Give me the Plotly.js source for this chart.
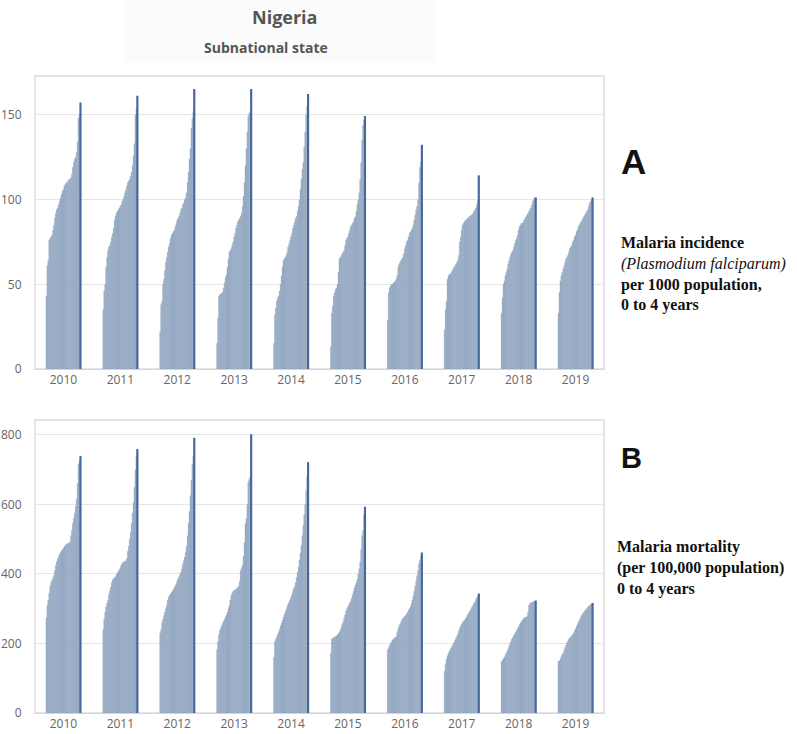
<!DOCTYPE html>
<html>
<head>
<meta charset="utf-8">
<script src="https://cdn.plot.ly/plotly-3.0.1.min.js"></script>
<style>
  html, body { margin: 0; padding: 0; background: #fff; }
  #chart { width: 797px; height: 734px; }
</style>
</head>
<body>
<div id="chart"></div>
<script>
// Years shown on the category axis
const years = ['2010', '2011', '2012', '2013', '2014', '2015', '2016', '2017', '2018', '2019'];

// Malaria incidence per 1000 (0-4 years), states sorted ascending within each year
const inc2010 = [43, 61, 64, 76, 77, 78, 79, 82, 85, 89, 92, 94, 95, 97, 99, 101, 103, 105, 106, 108, 109, 110, 110, 111, 112, 112, 113, 115, 119, 122, 124, 125, 128, 134, 148, 150, 157];
const inc2011 = [35, 46, 50, 60, 66, 70, 72, 73, 75, 78, 80, 83, 88, 90, 92, 93, 94, 95, 96, 97, 99, 100, 102, 104, 106, 108, 110, 111, 112, 114, 116, 120, 126, 133, 150, 154, 161];
const inc2012 = [22, 38, 40, 50, 53, 58, 63, 66, 69, 72, 74, 77, 79, 80, 81, 82, 84, 86, 88, 89, 90, 92, 94, 95, 97, 98, 100, 101, 104, 110, 116, 124, 130, 142, 148, 152, 165];
const inc2013 = [15, 30, 43, 44, 44, 45, 45, 48, 51, 54, 56, 60, 65, 69, 70, 71, 73, 75, 78, 80, 83, 85, 87, 88, 89, 90, 92, 96, 102, 110, 120, 130, 140, 149, 151, 152, 165];
const inc2014 = [15, 32, 36, 40, 42, 43, 46, 50, 55, 60, 64, 65, 66, 67, 69, 72, 74, 76, 78, 80, 83, 85, 87, 89, 90, 93, 96, 100, 106, 112, 118, 122, 131, 140, 150, 155, 162];
const inc2015 = [13, 33, 37, 43, 45, 47, 48, 50, 57, 65, 66, 67, 68, 69, 70, 73, 76, 77, 78, 80, 82, 84, 85, 86, 87, 89, 90, 93, 97, 100, 104, 112, 122, 135, 144, 147, 149];
const inc2016 = [29, 45, 48, 49, 50, 50, 51, 51, 52, 53, 55, 60, 62, 63, 64, 65, 66, 68, 71, 73, 75, 76, 78, 80, 81, 82, 83, 85, 88, 91, 94, 96, 100, 110, 119, 122, 132];
const inc2017 = [23, 35, 40, 53, 55, 56, 56, 57, 58, 59, 60, 61, 62, 63, 64, 67, 75, 78, 82, 85, 86, 87, 88, 88, 89, 89, 90, 90, 91, 91, 92, 93, 94, 95, 97, 99, 114];
const inc2018 = [33, 42, 50, 52, 55, 57, 59, 62, 64, 66, 68, 69, 70, 72, 74, 76, 77, 79, 82, 84, 85, 86, 86, 87, 88, 89, 90, 91, 92, 93, 94, 95, 97, 99, 100, 101, 101];
const inc2019 = [33, 45, 52, 55, 57, 59, 61, 63, 65, 66, 67, 69, 71, 72, 73, 75, 76, 78, 79, 81, 82, 84, 85, 86, 87, 88, 89, 90, 91, 92, 93, 94, 96, 98, 99, 100, 101];

// Malaria mortality per 100,000 (0-4 years), states sorted ascending within each year
const mort2010 = [273, 310, 325, 345, 365, 375, 382, 388, 395, 410, 425, 435, 443, 450, 456, 462, 466, 470, 474, 478, 482, 485, 487, 488, 489, 492, 510, 525, 545, 560, 575, 595, 615, 660, 715, 725, 738];
const mort2011 = [240, 270, 290, 305, 316, 325, 340, 352, 362, 375, 383, 386, 390, 393, 398, 403, 408, 412, 418, 425, 430, 433, 435, 436, 438, 445, 465, 480, 500, 520, 545, 575, 605, 650, 700, 740, 758];
const mort2012 = [230, 240, 260, 270, 280, 290, 300, 310, 325, 333, 338, 342, 346, 350, 355, 360, 366, 372, 380, 386, 392, 398, 405, 415, 428, 438, 448, 462, 480, 510, 545, 580, 625, 670, 715, 740, 790];
const mort2013 = [182, 205, 225, 238, 245, 252, 258, 264, 270, 276, 282, 290, 300, 310, 325, 338, 345, 350, 352, 354, 356, 358, 362, 365, 380, 410, 418, 425, 450, 490, 545, 560, 600, 665, 672, 678, 800];
const mort2014 = [160, 205, 212, 218, 226, 232, 240, 250, 258, 266, 275, 283, 290, 298, 306, 314, 320, 326, 332, 340, 350, 358, 365, 375, 390, 405, 420, 440, 460, 482, 510, 540, 570, 600, 640, 680, 720];
const mort2015 = [172, 213, 215, 217, 218, 220, 222, 225, 228, 232, 238, 246, 255, 262, 272, 282, 292, 300, 305, 310, 316, 322, 330, 340, 350, 360, 368, 375, 385, 400, 415, 435, 470, 510, 525, 570, 592];
const mort2016 = [182, 188, 195, 200, 205, 210, 213, 215, 217, 220, 232, 242, 250, 256, 262, 268, 272, 275, 278, 281, 285, 290, 296, 300, 306, 315, 325, 336, 350, 365, 380, 395, 410, 430, 440, 450, 460];
const mort2017 = [120, 140, 155, 165, 172, 178, 183, 188, 193, 198, 203, 209, 215, 221, 228, 236, 243, 250, 256, 260, 264, 267, 271, 276, 281, 286, 290, 295, 300, 305, 310, 315, 320, 326, 331, 336, 342];
const mort2018 = [148, 152, 156, 160, 166, 172, 178, 185, 192, 200, 207, 213, 218, 222, 227, 233, 238, 243, 248, 254, 259, 263, 267, 271, 274, 275, 276, 278, 290, 310, 315, 317, 318, 319, 320, 321, 322];
const mort2019 = [148, 150, 155, 162, 168, 172, 180, 188, 195, 202, 207, 212, 216, 219, 222, 225, 230, 236, 242, 248, 254, 260, 266, 272, 278, 283, 287, 290, 294, 297, 300, 304, 307, 310, 312, 313, 315];

const incidence = [inc2010, inc2011, inc2012, inc2013, inc2014, inc2015, inc2016, inc2017, inc2018, inc2019];
const mortality = [mort2010, mort2011, mort2012, mort2013, mort2014, mort2015, mort2016, mort2017, mort2018, mort2019];

const barColor = '#94a9c3';
const topColor = '#46699a';
const nStates = inc2010.length;

// One trace per rank position so that each year shows its sorted states side by side
const traces = [];
function addPanel(series, xa, ya) {
  for (let k = 0; k < nStates; k++) {
    const isTop = k === nStates - 1;
    const c = isTop ? topColor : barColor;
    traces.push({
      type: 'bar',
      x: years,
      y: series.map(s => s[k]),
      xaxis: xa,
      yaxis: ya,
      marker: { color: c, line: { color: c, width: isTop ? 1.2 : 0.4 } },
      hoverinfo: 'skip',
      showlegend: false
    });
  }
}
addPanel(incidence, 'x', 'y');
addPanel(mortality, 'x2', 'y2');

const tickFont = { family: 'Open Sans, sans-serif', size: 12, color: '#666666' };
const xCommon = {
  type: 'category',
  showline: true, linecolor: '#ccd6eb', linewidth: 1,
  showgrid: false, zeroline: false,
  ticks: '', tickfont: tickFont, fixedrange: true, automargin: false
};
const yCommon = {
  showline: false, showgrid: true, gridcolor: '#e6e6e6', gridwidth: 1,
  zeroline: false,
  ticks: 'outside', ticklen: 10, tickcolor: 'rgba(0,0,0,0)',
  tickfont: tickFont, fixedrange: true, automargin: false
};

const serif = 'Liberation Serif, Times New Roman, serif';
const layout = {
  width: 797, height: 734,
  margin: { l: 35, r: 193, t: 76, b: 21 },
  paper_bgcolor: '#ffffff', plot_bgcolor: '#ffffff',
  barmode: 'group', bargap: 0.385, bargroupgap: 0,
  showlegend: false,
  xaxis: Object.assign({}, xCommon, { anchor: 'y', domain: [0, 1] }),
  yaxis: Object.assign({}, yCommon, { anchor: 'x', domain: [0.54, 1], range: [0, 173], tickvals: [0, 50, 100, 150] }),
  xaxis2: Object.assign({}, xCommon, { anchor: 'y2', domain: [0, 1] }),
  yaxis2: Object.assign({}, yCommon, { anchor: 'x2', domain: [0, 0.46], range: [0, 843], tickvals: [0, 200, 400, 600, 800] }),
  shapes: [
    { type: 'rect', xref: 'paper', yref: 'paper', x0: 0.158, x1: 0.7065, y0: 1.022, y1: 1.119,
      fillcolor: '#fbfbfb', line: { width: 0 }, layer: 'below' },
    { type: 'rect', xref: 'paper', yref: 'paper', x0: 0, x1: 1, y0: 0.54, y1: 1,
      line: { color: '#dddddd', width: 1.5 }, layer: 'below' },
    { type: 'rect', xref: 'paper', yref: 'paper', x0: 0, x1: 1, y0: 0, y1: 0.46,
      line: { color: '#dddddd', width: 1.5 }, layer: 'below' }
  ],
  annotations: [
    { text: '<b>Nigeria</b>', xref: 'paper', yref: 'paper', x: 0.439, y: 1.0926,
      xanchor: 'center', yanchor: 'middle', showarrow: false,
      font: { family: 'Open Sans, sans-serif', size: 18, color: '#555555' } },
    { text: '<b>Subnational state</b>', xref: 'paper', yref: 'paper', x: 0.406, y: 1.044,
      xanchor: 'center', yanchor: 'middle', showarrow: false,
      font: { family: 'Open Sans, sans-serif', size: 14, color: '#555555' } },
    { text: '<b>A</b>', xref: 'paper', yref: 'paper', x: 1.027, y: 0.865,
      xanchor: 'left', yanchor: 'middle', showarrow: false,
      font: { family: 'Liberation Sans, Arial, sans-serif', size: 35, color: '#111111' } },
    { text: '<b>Malaria incidence</b><br><i>(Plasmodium falciparum)</i><br><b>per 1000 population,</b><br><b>0 to 4 years</b>',
      xref: 'paper', yref: 'paper', x: 1.027, y: 0.689, align: 'left',
      xanchor: 'left', yanchor: 'middle', showarrow: false,
      font: { family: serif, size: 16, color: '#111111' } },
    { text: '<b>B</b>', xref: 'paper', yref: 'paper', x: 1.027, y: 0.400,
      xanchor: 'left', yanchor: 'middle', showarrow: false,
      font: { family: 'Liberation Sans, Arial, sans-serif', size: 29, color: '#111111' } },
    { text: '<b>Malaria mortality</b><br><b>(per 100,000 population)</b><br><b>0 to 4 years</b>',
      xref: 'paper', yref: 'paper', x: 1.019, y: 0.228, align: 'left',
      xanchor: 'left', yanchor: 'middle', showarrow: false,
      font: { family: serif, size: 16, color: '#111111' } }
  ]
};

Plotly.newPlot('chart', traces, layout, { staticPlot: true, displayModeBar: false });
</script>
</body>
</html>
